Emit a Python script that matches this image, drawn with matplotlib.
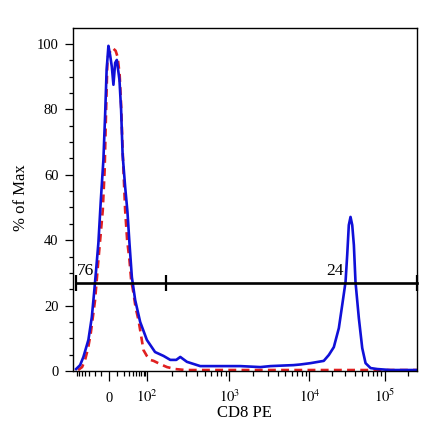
import numpy as np
import matplotlib
matplotlib.use("Agg")
import matplotlib.pyplot as plt

plt.rcParams['font.family'] = ['Liberation Serif', 'DejaVu Serif']
plt.rcParams['mathtext.fontset'] = 'stix'

# CD8 PE histogram, blue = stained, red dashed = control
blue_x = [-73, -56.6, -45.6, -32.4, -25.1, -20.9, -17.5, -14.0, -10.5, -7.1,
          -4.9, -3.05, -0.85, 1.2, 3.3, 5.3, 7.5, 9.7, 13.4, 15.9,
          18.3, 22.7, 27.2, 31.5, 37.3, 46.6, 64.4, 98, 125, 159,
          192, 227, 254, 306, 444, 778, 1370, 2440, 3250, 5010,
          6310, 7720, 10300, 15500, 18100, 21100, 24600, 27300, 30200, 31800,
          33400, 35200, 37100, 39000, 41000, 45400, 50400, 55800, 65100, 79900,
          119400, 262144]
blue_y = [0.6, 1.8, 4.3, 9.5, 16.5, 23.9, 30.9, 39.1, 52.3, 64.5,
          78.3, 92.0, 99.4, 96.6, 93.0, 87.5, 94.2, 95.1, 89.0, 79.8,
          66.1, 56.3, 48.6, 39.1, 28.7, 21.7, 15.0, 9.5, 5.8, 4.6,
          3.4, 3.4, 4.3, 2.8, 1.5, 1.5, 1.5, 1.2, 1.5, 1.7,
          1.8, 2.0, 2.4, 3.1, 4.9, 7.3, 13.1, 20.2, 27.2, 35.5,
          44.6, 47.1, 44.6, 38.5, 27.2, 16.2, 7.0, 2.4, 0.9, 0.6,
          0.3, 0.3]

red_x = [-64.4, -49.7, -40.7, -33.1, -27.2, -19.2, -14.0, -10.8, -7.9, -5.5,
         -3.7, -2.07, 0, 2.4, 5.3, 8.1, 10.8, 13.7, 15.9, 18.3,
         19.7, 22.7, 26.5, 31.5, 35.5, 41.6, 48.1, 57.8, 68.6, 79.3,
         98, 109, 120, 145, 175, 221, 292, 262144]
red_y = [0.3, 1.2, 3.4, 7.0, 11.6, 21.7, 33.9, 41.6, 49.2, 61.5,
         79.8, 95.1, 97.6, 97.2, 98.5, 97.9, 96.0, 90.5, 81.3, 67.6,
         61.5, 49.2, 40.1, 33.9, 27.8, 23.9, 19.3, 15.6, 10.7, 6.4,
         4.6, 3.4, 3.1, 2.1, 1.2, 0.6, 0.3, 0.3]

gate_x = [-73, 170, 262144]
gate_y = 26.8
gate_pct = ["76", "24"]

x_ticks = [0, 1e2, 1e3, 1e4, 1e5]
x_labels = ["0", "$10^2$", "$10^3$", "$10^4$", "$10^5$"]

# logicle-like display scale
anch_v = np.array([-1e2, 0, 1e2, 1e3, 1e4, 1e5, 1e6])
anch_p = np.array([71, 109, 147, 229, 309, 384, 462], dtype=float)


def g(x):
    return np.arcsinh(np.asarray(x, dtype=float) / 20.0) / np.log(10)


def fwd(x):
    return np.interp(g(x), g(anch_v), anch_p)


def inv(p):
    return 20.0 * np.sinh(np.interp(p, anch_p, g(anch_v)) * np.log(10))


fig = plt.figure(figsize=(4.4, 4.41), dpi=100)
ax = fig.add_axes([0.167, 0.1587, 0.7814, 0.7789])
ax.set_xscale('function', functions=(fwd, inv))

ax.plot(red_x, red_y, color='#e02020', lw=1.9, ls=(0, (3, 2)))
ax.plot(blue_x, blue_y, color='#1010d8', lw=1.9)

ax.plot(gate_x, [gate_y] * 3, color='black', lw=1.9, marker='|', ms=11,
        mew=1.6, clip_on=False)
ax.text(-70, 29.3, gate_pct[0], fontsize=12.5, ha='left', va='baseline')
ax.text(28400, 29.3, gate_pct[1], fontsize=12.5, ha='right', va='baseline')

ax.set_xlim(-86, 262144)
ax.set_ylim(0, 105)

minor = [-v for v in range(10, 80, 10)] + list(range(10, 100, 10))
for d in (100, 1000, 10000):
    minor += [k * d for k in range(2, 10)]
minor += [2e5]
ax.set_xticks(x_ticks, labels=x_labels)
ax.set_xticks(minor, minor=True)
ax.set_yticks(range(0, 101, 20))
ax.set_yticks(range(5, 101, 5), minor=True)

ax.tick_params(axis='x', which='major', length=7, width=0.9, labelsize=10.5, pad=15)
ax.tick_params(axis='x', which='minor', length=3.6, width=0.9)
ax.tick_params(axis='y', which='major', length=5.8, width=0.9, labelsize=10.5, pad=5)
ax.tick_params(axis='y', which='minor', length=3, width=0.9)
for t in ax.xaxis.get_major_ticks():
    t.label1.set_verticalalignment('baseline')
for s in ax.spines.values():
    s.set_linewidth(1.0)

ax.set_xlabel("CD8 PE", fontsize=12)
ax.set_ylabel("% of Max", fontsize=12)
ax.xaxis.set_label_coords(0.497, -0.099)
ax.yaxis.set_label_coords(-0.129, 0.505)

fig.savefig('out.png', dpi=100)
